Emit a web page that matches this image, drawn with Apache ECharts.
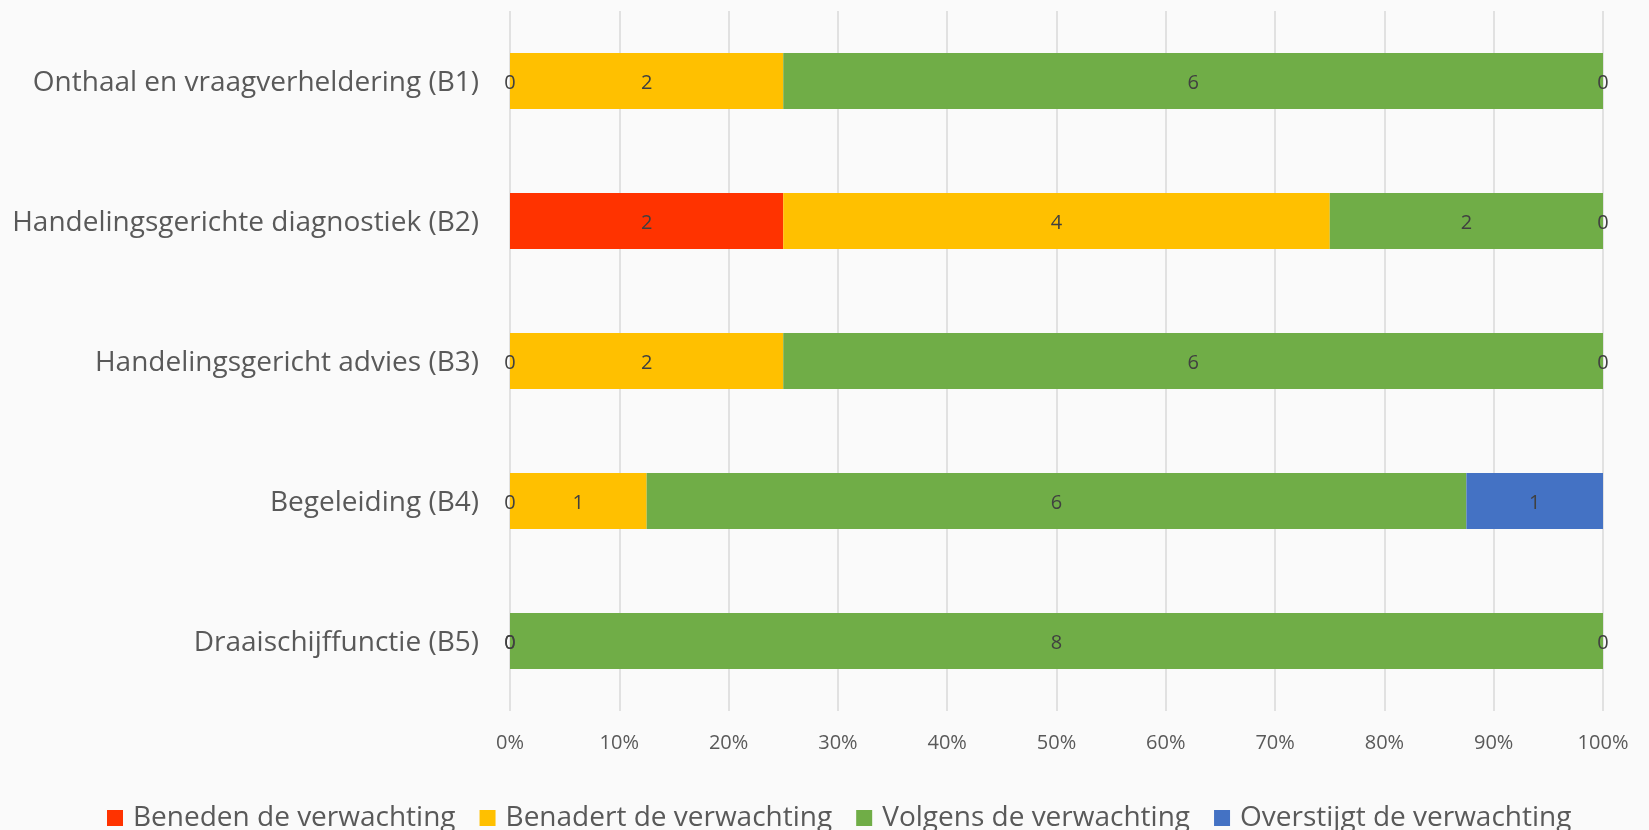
<!DOCTYPE html>
<html><head><meta charset="utf-8">
<script src="https://cdn.jsdelivr.net/npm/echarts@6/dist/echarts.min.js"></script>
<style>html,body{margin:0;padding:0;background:#fafafa}#c{width:1649px;height:830px}</style>
</head><body><div id="c"></div>
<script>
const categories = ['Onthaal en vraagverheldering (B1)','Handelingsgerichte diagnostiek (B2)','Handelingsgericht advies (B3)','Begeleiding (B4)','Draaischijffunctie (B5)'];
const seriesNames = ['Beneden de verwachting','Benadert de verwachting','Volgens de verwachting','Overstijgt de verwachting'];
const beneden = [0,2,0,0,0];
const benadert = [2,4,2,1,0];
const volgens = [6,2,6,6,8];
const overstijgt = [0,0,0,1,0];
const tickLabels = ['0%','10%','20%','30%','40%','50%','60%','70%','80%','90%','100%'];
const colors = ['#FF3300','#FFC000','#70AD47','#4472C4'];
const counts = [beneden, benadert, volgens, overstijgt];
const totals = categories.map((_, i) => counts.reduce((s, a) => s + a[i], 0));
const font = 'Open Sans';
const chart = echarts.init(document.getElementById('c'));
chart.setOption({
  backgroundColor: '#fafafa',
  animation: false,
  grid: {left: 510, right: 46, top: 11, bottom: 119},
  xAxis: {type: 'value', min: 0, max: 100, interval: 10,
    axisLine: {show: false}, axisTick: {show: false},
    splitLine: {lineStyle: {color: '#d9d9d9', width: 1.5}},
    axisLabel: {margin: 22, color: '#595959', fontFamily: font, fontSize: 20,
      formatter: v => tickLabels[Math.round(v / 10)]}},
  yAxis: {type: 'category', data: categories, inverse: true,
    axisLine: {show: false}, axisTick: {show: false},
    axisLabel: {margin: 31, color: '#595959', fontFamily: font, fontSize: 28,
      formatter: v => '{a|' + v + '}',
      rich: {a: {color: '#595959', fontFamily: font, fontSize: 28, padding: [5, 0, 0, 0]}}}},
  legend: {top: 799, left: 102, itemWidth: 16, itemHeight: 16, itemGap: 24,
    icon: 'rect', textStyle: {color: '#595959', fontFamily: font, fontSize: 28, padding: [0, 0, 0, 5]},
    data: seriesNames},
  series: seriesNames.map((n, k) => ({
    name: n, type: 'bar', stack: 'a', barWidth: '40%',
    itemStyle: {color: colors[k]},
    label: {show: true, position: 'inside', color: '#404040', fontFamily: font, fontSize: 20,
      offset: [0, 2],
      formatter: p => String(counts[k][p.dataIndex])},
    data: counts[k].map((v, i) => v / totals[i] * 100)
  }))
});
</script></body></html>
